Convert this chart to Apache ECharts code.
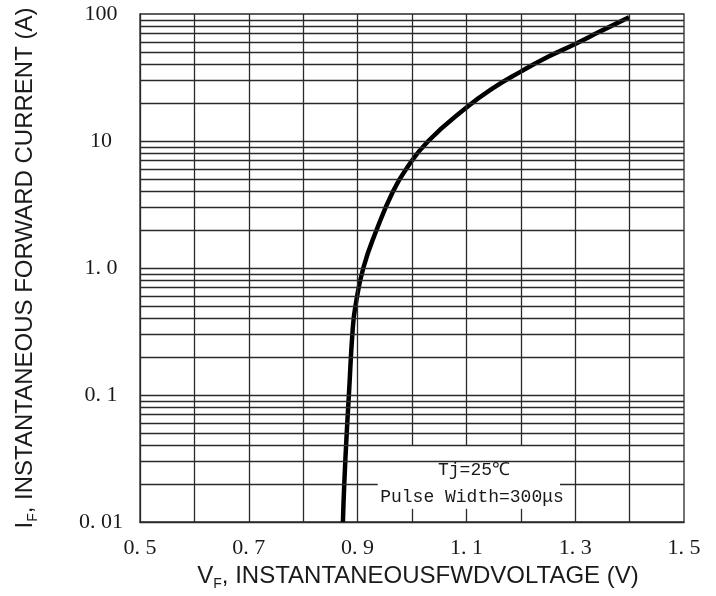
<!DOCTYPE html>
<html>
<head>
<meta charset="utf-8">
<script src="https://cdn.jsdelivr.net/npm/echarts@6/dist/echarts.min.js"></script>
<style>
  html, body { margin: 0; padding: 0; background: #fff; }
  #chart { width: 716px; height: 596px; }
</style>
</head>
<body>
<div id="chart"></div>
<script>
// forward curve: VF (V) against IF (A)
const vf = [0.873, 0.8755, 0.880, 0.884, 0.891, 0.896, 0.9105, 0.935, 0.965, 0.989, 1.030, 1.099, 1.149, 1.200, 1.251, 1.299, 1.349, 1.399];
const iF = [0.01, 0.02, 0.05, 0.1, 0.33, 0.5, 1.0, 2.0, 4.0, 6.0, 10, 18.2, 26.1, 35.2, 46.2, 57.8, 74, 94.2];

// tick labels as printed on the sheet
const xTickLabels = { "0.5": "0. 5", "0.7": "0. 7", "0.9": "0. 9", "1.1": "1. 1", "1.3": "1. 3", "1.5": "1. 5" };
const yTickLabels = ["0. 01", "0. 1", "1. 0", "10", "100"];

// grid of the paper chart
const xGridLines = [0.6, 0.7, 0.8, 0.9, 1.0, 1.1, 1.2, 1.3, 1.4];
const decades = [0.01, 0.1, 1, 10];
const decadeSteps = [1, 2, 3, 4, 5, 6, 7, 8, 9];

// the blank patch where the test conditions are written
const noteLeft = 0.937, noteRight = 1.272;
const noteTop = 0.04, noteTickTop = 0.0127;
const brokenRows = [0.02];

const X0 = 0.5, X1 = 1.5, Y0 = 0.01, Y1 = 100;

function gridSegments() {
  const segs = [];
  const seg = (a, b) => segs.push([{ coord: a }, { coord: b }]);
  xGridLines.forEach((x) => {
    if (x > noteLeft && x < noteRight) {
      seg([x, noteTop], [x, Y1]);
      seg([x, Y0], [x, noteTickTop]);
    } else {
      seg([x, Y0], [x, Y1]);
    }
  });
  decades.forEach((d) => {
    decadeSteps.forEach((k) => {
      const y = +(d * k).toPrecision(3);
      if (y <= Y0) return;
      if (brokenRows.includes(y)) {
        seg([X0, y], [noteLeft, y]);
        seg([noteRight, y], [X1, y]);
      } else {
        seg([X0, y], [X1, y]);
      }
    });
  });
  return segs;
}

const chart = echarts.init(document.getElementById("chart"));
const ink = "#1a1a1a";
const gridInk = "#2a2a2a";
const serif = "'Liberation Serif', 'DejaVu Serif', serif";
const mono = "'Liberation Mono', 'DejaVu Sans Mono', monospace";
const sans = "'Liberation Sans', Arial, sans-serif";

const nameRich = {
  m: { fontSize: 24, fontFamily: sans, color: ink, lineHeight: 29 },
  s: { fontSize: 14, fontFamily: sans, color: ink, lineHeight: 22, verticalAlign: "bottom" },
};

chart.setOption({
  animation: false,
  grid: {
    left: 140, top: 14, width: 544, height: 509,
    show: true, borderColor: gridInk, borderWidth: 1.3,
  },
  xAxis: {
    type: "value",
    min: X0, max: X1, interval: 0.1,
    axisLine: { show: true, lineStyle: { color: gridInk, width: 1.3 } },
    axisTick: { show: false },
    splitLine: { show: false },
    axisLabel: {
      margin: 15, color: ink, fontSize: 22, fontFamily: serif,
      showMinLabel: true, showMaxLabel: true,
      formatter: (v) => xTickLabels[(Math.round(v * 10) / 10).toFixed(1)] || "",
    },
    name: "{m|V}{s|F}{m|, INSTANTANEOUSFWDVOLTAGE (V)}",
    nameLocation: "middle",
    nameGap: 40,
    nameTextStyle: { rich: nameRich, padding: [0, 0, 0, 12] },
  },
  yAxis: {
    type: "log",
    logBase: 10,
    min: Y0, max: Y1,
    axisLine: { show: true, lineStyle: { color: gridInk, width: 1.3 } },
    axisTick: { show: false },
    splitLine: { show: false },
    minorTick: { show: false },
    axisLabel: {
      align: "center", margin: 39, color: ink, fontSize: 22, fontFamily: serif,
      formatter: (v) => yTickLabels[Math.round(Math.log10(v)) + 2],
    },
    name: "{m|I}{s|F}{m|, INSTANTANEOUS FORWARD CURRENT (A)}",
    nameLocation: "middle",
    nameRotate: 90,
    nameGap: 100,
    nameTextStyle: { rich: nameRich },
  },
  graphic: [
    {
      type: "text", x: 474, y: 470,
      style: { text: "Tj=25℃", align: "center", verticalAlign: "middle", fontSize: 18, fontFamily: mono, fill: ink },
    },
    {
      type: "text", x: 472, y: 497,
      style: { text: "Pulse Width=300μs", align: "center", verticalAlign: "middle", fontSize: 18, fontFamily: mono, fill: ink },
    },
  ],
  series: [
    {
      name: "grid",
      type: "line",
      data: [],
      silent: true,
      z: 1,
      markLine: {
        silent: true,
        symbol: ["none", "none"],
        label: { show: false },
        lineStyle: { color: gridInk, width: 1.3, type: "solid" },
        emphasis: { disabled: true },
        data: gridSegments(),
      },
    },
    {
      name: "IF",
      type: "line",
      data: vf.map((v, i) => [v, iF[i]]),
      showSymbol: false,
      smooth: 0.5,
      z: 3,
      lineStyle: { color: "#000", width: 4.5 },
    },
  ],
});

window.addEventListener("resize", () => chart.resize());
</script>
</body>
</html>
